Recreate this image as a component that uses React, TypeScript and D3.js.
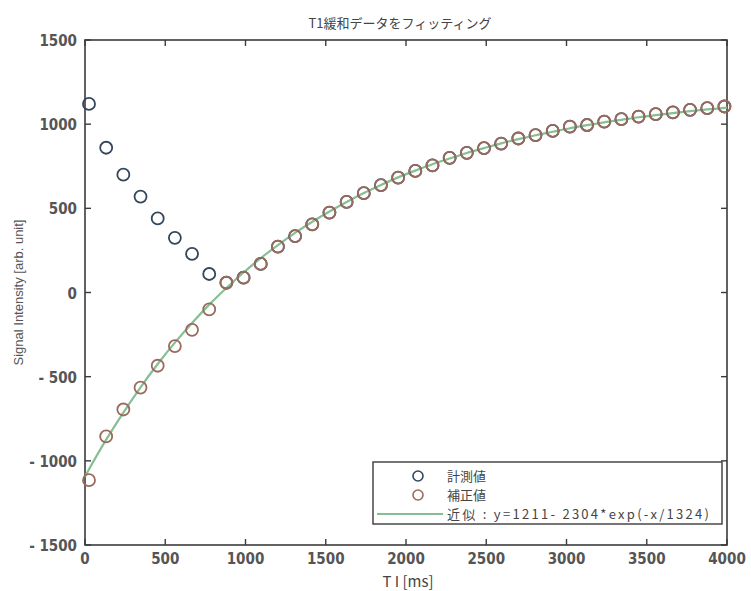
import React, { useEffect, useRef } from "react";
import * as d3 from "d3";

// TI values (ms)
const tiMs = [
  25, 132, 239, 346, 453, 560, 667, 774, 881, 988, 1095, 1202, 1309, 1416,
  1523, 1630, 1737, 1844, 1951, 2058, 2165, 2272, 2379, 2486, 2593, 2700,
  2807, 2914, 3021, 3128, 3235, 3342, 3449, 3556, 3663, 3770, 3877, 3984,
];
// 計測値 (measured, blue)
const measured = [
  1120, 860, 700, 570, 440, 325, 230, 110, 58, 88, 170, 272, 335, 405, 475,
  538, 590, 638, 682, 722, 755, 800, 830, 858, 885, 915, 935, 960, 985, 995,
  1015, 1030, 1045, 1060, 1070, 1085, 1095, 1105,
];
// 補正値 (corrected, red)
const corrected = [
  -1115, -855, -695, -565, -435, -318, -222, -100, 58, 88, 170, 272, 335, 405,
  475, 538, 590, 638, 682, 722, 755, 800, 830, 858, 885, 915, 935, 960, 985,
  995, 1015, 1030, 1045, 1060, 1070, 1085, 1095, 1105,
];
// fitted curve y=1211-2304*exp(-x/1324)
const fitTi = [
  0, 25, 132, 239, 346, 453, 560, 667, 774, 881, 988, 1095, 1202, 1309, 1416,
  1523, 1630, 1737, 1844, 1951, 2058, 2165, 2272, 2379, 2486, 2593, 2700,
  2807, 2914, 3021, 3128, 3235, 3342, 3449, 3556, 3663, 3770, 3877, 3984, 4000,
];
const fitValues = [
  -1093, -1050, -874, -713, -563, -425, -298, -181, -72, 27, 119, 204, 282,
  354, 420, 481, 538, 591, 639, 684, 724, 762, 796, 829, 858, 886, 911, 934,
  955, 976, 994, 1011, 1026, 1041, 1054, 1066, 1077, 1088, 1097, 1099,
];
const xTicks = [0, 500, 1000, 1500, 2000, 2500, 3000, 3500, 4000];
const yTicks = [-1500, -1000, -500, 0, 500, 1000, 1500];
const legendLabels = ["計測値", "補正値", "近似 : y=1211- 2304*exp(-x/1324)"];

const App = () => {
  const ref = useRef<SVGSVGElement>(null);
  useEffect(() => {
    const WIDTH = 751;
    const HEIGHT = 591;
    const M = { top: 40, right: 24, bottom: 46, left: 85 };
    const AX = "#3b3b3b";
    const BLUE = "#34465a";
    const RED = "#9a6a5c";
    const GREEN = "#86bf93";
    const NUM_FONT = "'DejaVu Sans Condensed', 'Liberation Sans Narrow', sans-serif";
    const JP_FONT = "'Noto Sans CJK JP', sans-serif";

    const svg = d3.select(ref.current);
    svg.selectAll("*").remove();
    svg.attr("width", WIDTH).attr("height", HEIGHT);
    svg.append("rect").attr("width", WIDTH).attr("height", HEIGHT).attr("fill", "#fff");

    const x = d3.scaleLinear().domain([0, 4000]).range([M.left, WIDTH - M.right]);
    const y = d3.scaleLinear().domain([-1500, 1500]).range([HEIGHT - M.bottom, M.top]);
    const [x0, x1] = x.range();
    const [y0, y1] = y.range();

    /* ticks, inward on all four sides */
    const g = svg.append("g").attr("stroke", AX).attr("stroke-width", 1.4);
    xTicks.forEach((t) => {
      g.append("line").attr("x1", x(t)).attr("x2", x(t)).attr("y1", y0).attr("y2", y0 - 6);
      g.append("line").attr("x1", x(t)).attr("x2", x(t)).attr("y1", y1).attr("y2", y1 + 6);
    });
    yTicks.forEach((t) => {
      g.append("line").attr("x1", x0).attr("x2", x0 + 6).attr("y1", y(t)).attr("y2", y(t));
      g.append("line").attr("x1", x1).attr("x2", x1 - 6).attr("y1", y(t)).attr("y2", y(t));
    });
    svg
      .append("rect")
      .attr("x", x0)
      .attr("y", y1)
      .attr("width", x1 - x0)
      .attr("height", y0 - y1)
      .attr("fill", "none")
      .attr("stroke", AX)
      .attr("stroke-width", 1.6);

    /* tick labels */
    svg
      .append("g")
      .selectAll("text")
      .data(xTicks)
      .join("text")
      .attr("x", (d) => x(d))
      .attr("y", y0 + 19)
      .attr("text-anchor", "middle")
      .attr("font-family", NUM_FONT)
      .attr("font-size", 15)
      .attr("font-weight", "bold")
      .attr("fill", "#555")
      .text((d) => d);
    svg
      .append("g")
      .selectAll("text")
      .data(yTicks)
      .join("text")
      .attr("x", x0 - 8)
      .attr("y", (d) => y(d) + 6)
      .attr("text-anchor", "end")
      .attr("font-family", NUM_FONT)
      .attr("font-size", 15)
      .attr("font-weight", "bold")
      .attr("fill", "#555")
      .text((d) => (d < 0 ? "- " + Math.abs(d) : d));

    /* fit line */
    const line = d3
      .line<number>()
      .x((d, i) => x(fitTi[i]))
      .y((d) => y(d))
      .curve(d3.curveMonotoneX);
    svg
      .append("path")
      .datum(fitValues)
      .attr("d", line)
      .attr("fill", "none")
      .attr("stroke", GREEN)
      .attr("stroke-width", 2.2);

    /* markers */
    svg
      .append("g")
      .selectAll("circle")
      .data(measured)
      .join("circle")
      .attr("cx", (d, i) => x(tiMs[i]))
      .attr("cy", (d) => y(d))
      .attr("r", 6)
      .attr("fill", "none")
      .attr("stroke", BLUE)
      .attr("stroke-width", 1.8);
    svg
      .append("g")
      .selectAll("circle")
      .data(corrected)
      .join("circle")
      .attr("cx", (d, i) => x(tiMs[i]))
      .attr("cy", (d) => y(d))
      .attr("r", 6)
      .attr("fill", "none")
      .attr("stroke", RED)
      .attr("stroke-width", 1.8);

    /* title and axis labels */
    svg
      .append("text")
      .attr("x", 400)
      .attr("y", 28)
      .attr("text-anchor", "middle")
      .attr("font-family", JP_FONT)
      .attr("font-size", 13)
      .attr("fill", "#444")
      .text("T1緩和データをフィッティング");
    svg
      .append("text")
      .attr("x", 408)
      .attr("y", 587)
      .attr("text-anchor", "middle")
      .attr("font-family", JP_FONT)
      .attr("font-size", 15)
      .attr("fill", "#444")
      .text("T I [ms]");
    svg
      .append("text")
      .attr("transform", `translate(23,${(y0 + y1) / 2}) rotate(-90)`)
      .attr("text-anchor", "middle")
      .attr("font-family", "'Liberation Sans', sans-serif")
      .attr("font-size", 13)
      .attr("fill", "#555")
      .text("Signal Intensity [arb. unit]");

    /* legend */
    const lg = svg.append("g");
    lg.append("rect")
      .attr("x", 373)
      .attr("y", 462)
      .attr("width", 349)
      .attr("height", 62)
      .attr("fill", "#fff")
      .attr("stroke", AX)
      .attr("stroke-width", 1.4);
    const rowY = [476, 495, 514];
    lg.append("circle").attr("cx", 418).attr("cy", rowY[0]).attr("r", 5).attr("fill", "none").attr("stroke", BLUE).attr("stroke-width", 1.6);
    lg.append("circle").attr("cx", 418).attr("cy", rowY[1]).attr("r", 5).attr("fill", "none").attr("stroke", RED).attr("stroke-width", 1.6);
    lg.append("line").attr("x1", 377).attr("x2", 443).attr("y1", rowY[2]).attr("y2", rowY[2]).attr("stroke", GREEN).attr("stroke-width", 2.2);
    lg.selectAll("text")
      .data(legendLabels)
      .join("text")
      .attr("x", 447)
      .attr("y", (d, i) => rowY[i] + 5)
      .attr("font-family", JP_FONT)
      .attr("font-size", 13)
      .attr("fill", "#444")
      .attr("textLength", (d, i) => (i === 2 ? 262 : null))
      .attr("lengthAdjust", "spacing")
      .text((d) => d);
  }, []);

  return <svg ref={ref} style={{ position: "absolute", left: 0, top: 0 }} />;
};

export default App;
